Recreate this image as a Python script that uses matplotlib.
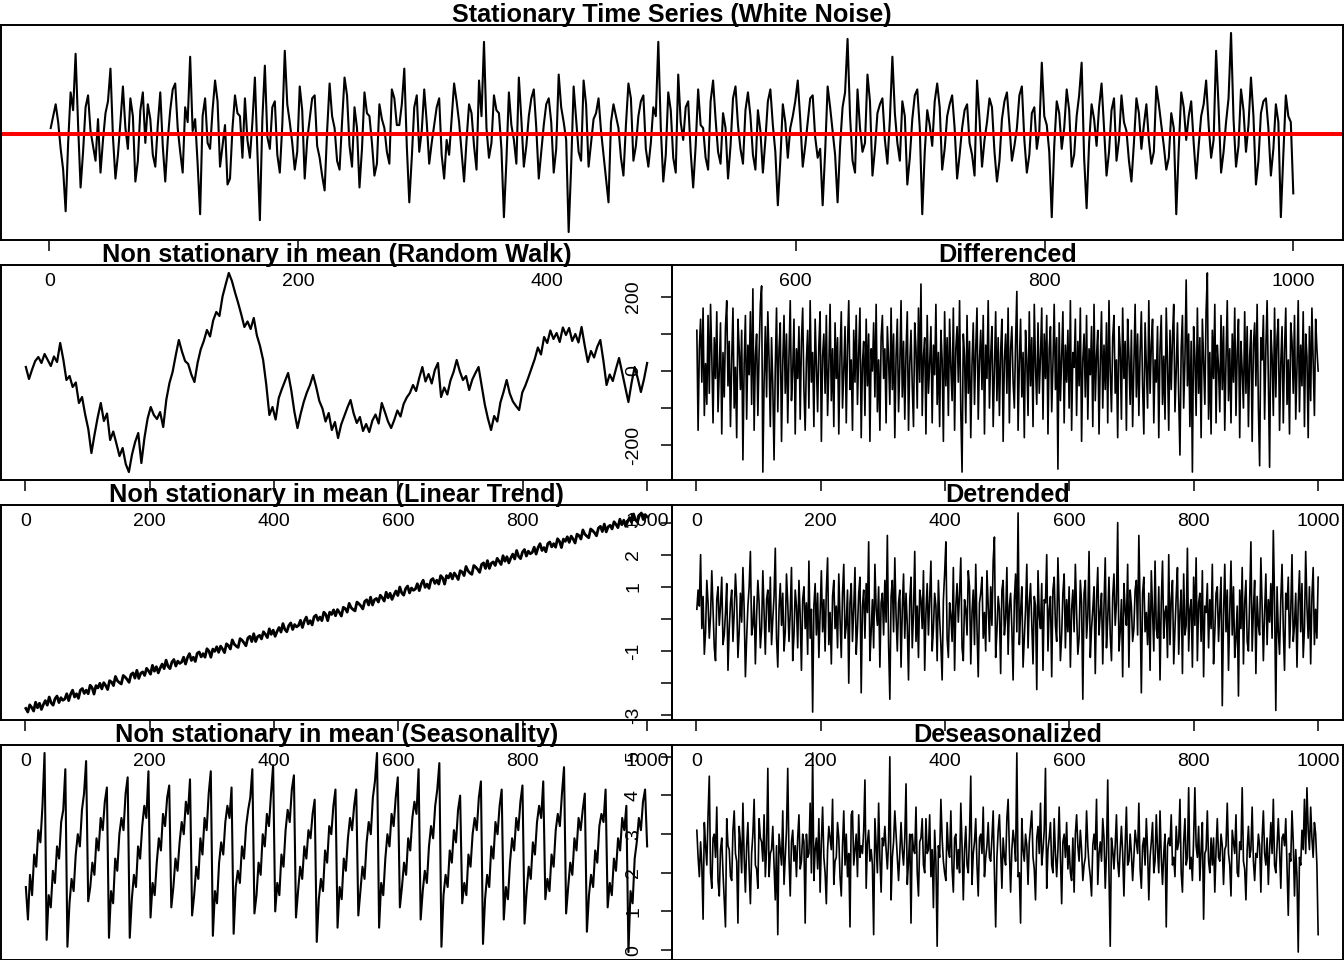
import numpy as np
import matplotlib.pyplot as plt

plt.rcParams['font.family'] = ['Liberation Sans', 'DejaVu Sans']
plt.rcParams['axes.unicode_minus'] = False

# DATA (one sample every couple of time steps of 1..1000)
white_noise = [
    0.2, 0.6, 1.0, 0.4, -0.5, -1.2, -2.6, -0.3, 1.4, 0.8, 2.7, 0.3, -1.8, -0.6, 0.9, 1.3, 0.1, -0.4, -0.9, 0.5,
    -1.3, -0.2, 0.7, 1.1, 2.2, -0.1, -1.5, -0.7, 0.4, 1.6, 0.2, -0.5, 1.2, 0.6, -1.6, -0.9, 0.8, 1.4, -0.3, 1.0,
    0.5, -0.7, -1.1, 0.3, 1.4, -0.4, -1.6, -0.2, 0.8, 1.5, 1.7, 0.2, -0.6, -1.3, 0.9, 0.4, 2.6, 0.1, 0.5, -1.0,
    -2.7, 0.6, 1.2, -0.3, -0.5, 0.8, 1.8, 1.1, -1.1, -0.4, 0.3, -1.7, -1.5, 0.2, 1.3, 0.7, 0.6, -0.8, 1.2, -0.2,
    -0.8, 0.4, 1.9, -0.6, -2.9, 0.5, 2.3, -0.1, -0.5, 0.9, 1.1, -0.7, -1.3, 0.3, 2.8, 1.0, 0.4, -0.3, -1.2, -0.6,
    1.6, 0.8, -1.5, -0.2, 0.5, 1.2, 1.3, -0.4, -0.8, -1.4, -1.9, 0.1, 1.7, 0.6, 0.2, -0.9, -1.2, 0.4, 1.9, 1.3,
    -0.4, -1.1, 0.9, 0.2, -1.8, -0.5, 1.4, 0.7, 0.6, -0.3, -1.4, -1.0, 1.0, 0.5, 0.2, -0.6, -1.0, 1.5, 1.2, 0.3,
    0.3, 1.0, 2.2, -0.4, -2.3, -0.8, 0.9, 1.3, -0.6, 0.1, 1.5, 0.4, -1.0, -0.3, 0.3, 0.9, 1.2, -0.7, -1.5, -0.2,
    -0.7, 0.5, 1.7, 1.1, 0.4, -0.6, -1.6, -0.2, 1.0, 0.7, -0.4, -1.2, 1.8, 0.6, 3.1, 0.2, -0.8, -0.3, 1.3, 0.8,
    0.7, -0.5, -2.8, -0.9, 1.4, 0.3, -0.2, -1.0, 1.9, 0.5, -1.1, -0.4, 0.6, 1.2, 1.5, 0.2, -1.5, -0.6, 0.3, 1.0,
    1.2, 0.4, -1.3, -0.5, 2.0, 0.9, 0.4, -0.2, -3.3, -1.1, 1.6, 0.5, -0.6, -0.9, 1.8, 1.0, -1.1, -0.3, 0.5, 0.7,
    1.2, 0.1, -0.7, -1.5, -2.3, 0.4, 1.0, 0.6, 0.2, -0.8, -1.4, 0.3, 1.7, 1.2, -0.9, -0.4, 0.6, 1.1, 1.3, -0.5,
    -1.1, -0.3, 0.9, 0.6, 3.1, 0.2, -1.6, -0.7, 1.4, 0.8, -0.8, -1.3, 2.0, 0.4, -0.2, 0.9, 1.1, -0.6, -1.8, -0.4,
    1.5, 0.3, 0.2, -0.8, -1.2, 1.1, 1.8, 0.5, -0.6, -1.0, 0.7, 0.2, -1.5, -0.4, 1.2, 1.6, 0.3, -0.5, -1.0, 0.8,
    1.4, 0.6, -0.7, -1.2, 0.8, 0.1, -1.3, -0.2, 1.1, 1.5, 0.3, -0.6, -2.4, -0.9, 1.0, 0.4, -0.8, 0.2, 0.6, 1.1,
    1.8, 0.5, -1.1, -0.4, 0.4, 1.2, 1.3, -0.1, -0.8, -0.5, -2.4, -0.6, 1.6, 0.9, 0.1, -0.7, -2.3, -0.4, 0.9, 1.4,
    3.2, 0.6, -0.9, -1.3, 1.5, 0.2, -0.6, -0.3, 2.0, 1.1, -1.4, -0.5, 0.7, 1.0, 1.2, -0.2, -1.0, 0.5, 2.6, 0.7,
    -0.3, -0.9, 1.1, 0.6, -1.7, -0.8, 0.5, 1.3, 1.5, 0.2, -2.7, -0.6, 0.8, 0.3, -0.4, 1.1, 1.7, 0.9, -1.2, -0.5,
    0.6, 1.0, 1.3, 0.2, -1.5, -0.7, 0.2, 0.8, 1.0, -0.3, -0.7, -1.4, 1.8, 0.5, -1.1, -0.2, 0.4, 1.2, 0.9, -0.6,
    -1.6, -0.9, 0.5, 1.1, 1.4, 0.3, -0.9, -0.4, 0.2, 1.3, 1.6, -0.2, -1.3, -0.7, 0.7, 0.9, -0.5, 0.1, 2.4, 0.6,
    0.3, -0.6, -2.8, -0.4, 1.1, 0.7, -0.5, 0.2, 1.5, 0.8, -1.1, -0.7, 0.6, 1.3, 2.4, -0.8, -2.5, -0.3, 1.0, 0.5,
    -0.4, 0.9, 1.7, 0.2, -1.4, -0.6, 0.8, 1.2, -0.9, -0.2, 1.3, 0.4, 0.1, -0.9, -1.6, -0.3, 1.2, 0.7, -0.5, 0.3,
    1.0, -0.2, -1.0, -0.6, 1.6, 1.0, 0.3, -0.4, -1.2, -0.8, 0.7, 0.2, -2.7, -0.5, 1.4, 0.9, -0.2, 0.6, 1.1, -0.3,
    -1.5, -0.4, 0.6, 1.0, 1.8, 0.3, -0.8, -0.2, 2.8, 0.9, -1.3, -0.6, 0.4, 1.2, 3.4, 0.5, -1.1, -0.4, 1.5, 0.8,
    -0.6, 0.3, 1.9, 0.6, -1.7, -0.9, 0.7, 1.1, 1.2, 0.2, -1.4, -0.5, 1.0, 0.4, -2.8, -0.7, 1.3, 0.6, 0.4, -2.0,
]

random_walk = [
    0.0, -2.4, -0.5, 1.2, 2.0, 0.8, 2.6, 1.4, 0.2, 2.1,
    1.0, 4.8, 1.5, -2.6, -1.8, -4.0, -3.1, -7.2, -6.0, -9.5,
    -12.4, -17.2, -13.5, -10.1, -7.2, -10.8, -9.3, -14.6, -12.9, -15.3,
    -17.8, -16.2, -19.4, -21.0, -17.5, -15.0, -13.2, -19.2, -14.1, -10.3,
    -8.0, -9.6, -10.4, -9.0, -12.0, -6.5, -3.2, -1.0, 2.3, 5.4,
    3.1, 1.2, 0.6, -1.5, -3.0, 0.8, 3.5, 5.2, 7.4, 6.1,
    9.3, 11.0, 10.2, 14.1, 16.5, 18.8, 17.2, 14.9, 12.8, 10.5,
    8.0, 9.1, 7.6, 9.8, 6.3, 4.2, 1.4, -3.5, -9.6, -8.0,
    -10.5, -6.2, -4.4, -2.8, -1.2, -4.6, -8.9, -12.2, -9.4, -7.0,
    -5.1, -3.6, -1.6, -4.0, -6.8, -8.3, -10.9, -9.2, -12.6, -11.0,
    -14.2, -11.5, -9.8, -8.1, -6.6, -9.3, -11.2, -10.0, -12.8, -11.4,
    -13.0, -10.7, -9.5, -11.3, -7.2, -9.0, -10.9, -12.2, -10.6, -8.7,
    -9.9, -7.4, -6.1, -5.2, -3.6, -4.8, -2.2, 0.0, -2.9, -1.4,
    -3.3, -0.6, 0.8, -6.0, -4.1, -5.5, -2.7, -1.0, 1.4, -0.9,
    -2.6, -1.8, -4.6, -2.5, -1.2, 0.0, -3.8, -7.5, -10.3, -12.6,
    -9.8, -10.9, -7.1, -5.0, -2.6, -5.3, -6.9, -7.8, -8.6, -5.1,
    -3.7, -2.0, -0.2, 1.6, 3.9, 2.5, 6.0, 4.8, 7.3, 5.6,
    6.8, 5.0, 7.9, 6.4, 7.8, 5.2, 6.6, 4.9, 8.0, 4.3,
    1.0, 3.2, 1.9, 4.0, 5.4, 1.2, -3.6, -1.5, -2.8, -0.4,
    1.8, -1.1, -3.9, -7.0, -3.2, 0.0, -2.3, -5.0, -2.4, 0.8,
]

differenced = [
    110, -160, 60, 140, -30, 170, -120, 20, -90, 150, -60, 180, 40, -140, 90, -20, 160, -110, 0, 130, -170, 50, -70, 120, 190,
    -40, 80, -150, 30, 170, -100, 10, -180, 140, 60, -50, 110, -240, 20, 150, -130, 70, -10, 160, -90, 222, -160, 40, 100, -120,
    50, 180, 230, -273, -30, 120, -70, 160, 30, -150, 90, -40, -240, 10, 170, -110, 60, 130, -190, 20, 150, -60, 100, -140, 40,
    190, -80, 0, 140, -170, 60, -20, 120, -130, 80, 170, -50, -160, 30, 110, -100, 190, -30, 50, -150, 140, 20, -110, 70, 160,
    -190, 40, 100, -60, 150, -120, 10, 180, -80, 60, -150, 130, -20, 90, -170, 40, 160, -100, 0, 120, -140, 70, 190, -50, 30,
    -160, 110, -30, 150, -90, 50, 170, -180, 20, 80, -120, 140, -40, 100, -190, 60, 0, 130, -70, 180, -110, 30, -160, 90, 150,
    -20, 60, -140, 120, 30, -90, 170, -50, 100, -180, 40, 140, -110, 10, 190, -70, 80, -130, 50, 160, -160, 20, 110, -40, -150,
    130, 60, -100, 170, -30, 235, -120, 40, 90, -170, 150, -60, 20, 120, -140, 70, -10, 180, -90, 50, -150, 110, 30, -190, 160,
    -40, 90, -120, 140, 10, -80, 170, -160, 60, 120, -30, 190, -110, -273, 100, 40, -140, 150, -60, 80, -180, 20, 130, -90, 60,
    170, -130, 30, 110, -50, 150, -170, 70, -20, 190, -100, 40, 120, -150, 0, 160, -80, 90, -120, 50, 140, -190, 30, 100, -60,
    170, -140, 60, 120, -30, -100, 80, 215, -160, 20, 140, -70, 50, -180, 110, 30, -120, 160, -40, 90, -150, 180, 10, -90, 130,
    -60, 40, 170, -130, 100, -20, 150, -170, 60, 120, -110, 20, 180, -50, 90, -265, 130, -80, 40, 160, -140, 70, -30, 110, -100,
    190, -160, 50, 10, 140, -120, 80, -40, 170, -190, 30, 100, -70, 150, -130, 60, -10, 120, -150, 180, -80, 40, 110, -170, 20,
    160, -100, 70, -50, 130, -140, 190, 0, -110, 90, 150, -60, 30, -180, 120, 60, -130, 170, -20, 80, -160, 140, 40, -90, 110,
    -150, 20, 180, -70, 100, -120, 50, 160, -40, -170, 130, 10, -100, 190, -60, 70, 140, -140, 30, -30, 120, -180, 60, 150, -90,
    40, -130, 170, 20, -160, 110, -50, 90, 180, -110, 0, 130, -70, -227, 60, 150, -100, 30, 246, -40, 100, -150, 80, -273, 120,
    40, -120, 170, -60, 90, -180, 140, 20, -90, 160, 265, -130, 50, -170, 110, -20, 180, -140, 70, 10, -110, 150, -50, 120, -160,
    30, 190, -80, 60, -140, 100, -30, 170, -120, 50, 140, -180, 80, 0, -100, 160, -60, 120, -150, 40, 110, -190, 70, 130, -40,
    180, -100, -256, 90, 30, 150, -130, 60, 190, -20, -260, 110, 40, -120, 170, -70, 90, 140, -160, 20, 120, -140, 60, 170, -90,
    30, -170, 130, 80, -60, 150, -130, 10, 190, -110, 70, -40, 160, -150, 100, 40, -180, 120, -80, 170, 20, -120, 140, 60, 0,
]

linear_trend = [
    -2.80, -2.91, -2.69, -2.77, -2.88, -2.61, -2.78, -2.64, -2.83, -2.68, -2.56, -2.70, -2.45, -2.63, -2.70, -2.50, -2.42, -2.62, -2.47, -2.55,
    -2.51, -2.35, -2.56, -2.36, -2.24, -2.45, -2.35, -2.49, -2.24, -2.19, -2.34, -2.24, -2.35, -2.09, -2.16, -2.36, -2.10, -2.17, -2.03, -2.20,
    -2.01, -2.10, -2.22, -1.95, -1.99, -2.10, -1.82, -1.95, -2.01, -2.05, -1.79, -1.84, -1.91, -2.00, -1.76, -1.71, -1.87, -1.63, -1.88, -1.72,
    -1.68, -1.79, -1.57, -1.65, -1.75, -1.48, -1.66, -1.52, -1.71, -1.56, -1.44, -1.58, -1.32, -1.51, -1.58, -1.38, -1.30, -1.50, -1.35, -1.42,
    -1.38, -1.23, -1.44, -1.24, -1.12, -1.33, -1.23, -1.36, -1.11, -1.07, -1.22, -1.12, -1.23, -0.97, -1.04, -1.23, -0.98, -1.05, -0.91, -1.08,
    -0.89, -0.98, -1.09, -0.82, -0.87, -0.98, -0.70, -0.83, -0.89, -0.93, -0.66, -0.71, -0.79, -0.88, -0.64, -0.59, -0.75, -0.51, -0.75, -0.60,
    -0.56, -0.67, -0.45, -0.53, -0.63, -0.36, -0.53, -0.40, -0.59, -0.44, -0.32, -0.46, -0.20, -0.38, -0.45, -0.26, -0.18, -0.38, -0.23, -0.30,
    -0.26, -0.10, -0.32, -0.12, 0.00, -0.21, -0.11, -0.24, 0.01, 0.06, -0.10, 0.00, -0.11, 0.15, 0.08, -0.11, 0.15, 0.08, 0.22, 0.04,
    0.23, 0.14, 0.03, 0.30, 0.26, 0.15, 0.42, 0.29, 0.23, 0.19, 0.46, 0.41, 0.34, 0.25, 0.48, 0.53, 0.37, 0.61, 0.37, 0.53,
    0.57, 0.46, 0.67, 0.59, 0.49, 0.76, 0.59, 0.73, 0.54, 0.68, 0.80, 0.66, 0.92, 0.74, 0.67, 0.87, 0.95, 0.74, 0.89, 0.82,
    0.86, 1.02, 0.81, 1.01, 1.13, 0.91, 1.01, 0.88, 1.13, 1.18, 1.03, 1.13, 1.01, 1.27, 1.20, 1.01, 1.27, 1.20, 1.34, 1.17,
    1.35, 1.26, 1.15, 1.42, 1.38, 1.27, 1.55, 1.42, 1.35, 1.31, 1.58, 1.53, 1.46, 1.37, 1.61, 1.66, 1.49, 1.73, 1.49, 1.65,
    1.69, 1.58, 1.80, 1.71, 1.61, 1.88, 1.71, 1.85, 1.66, 1.81, 1.93, 1.78, 2.04, 1.86, 1.79, 1.99, 2.07, 1.87, 2.02, 1.94,
    1.98, 2.14, 1.93, 2.13, 2.25, 2.04, 2.13, 2.00, 2.25, 2.30, 2.15, 2.25, 2.14, 2.40, 2.32, 2.13, 2.39, 2.32, 2.46, 2.29,
    2.48, 2.39, 2.27, 2.54, 2.50, 2.39, 2.67, 2.54, 2.48, 2.43, 2.70, 2.65, 2.58, 2.49, 2.73, 2.78, 2.62, 2.85, 2.61, 2.77,
    2.81, 2.70, 2.92, 2.84, 2.74, 3.00, 2.83, 2.97, 2.78, 2.93, 3.05, 2.91, 3.16, 2.98, 2.91, 3.11, 3.19, 2.99, 3.14, 3.07,
]

detrended = [
    0.3, 0.9, 0.4, 2.0, -0.3, 0.7, -1.1, -0.4, 1.2, 0.5, -0.6, 0.1, 1.5, 0.3, -0.9, -1.3, 0.6, 1.0, -0.2, 0.4, 1.3, -0.8, -0.5, 0.2, 1.1,
    -1.6, -0.3, 0.5, 0.9, -0.7, 0.2, 1.4, 0.6, -1.2, -0.4, 0.8, -0.1, 1.6, 0.3, -1.8, -0.6, 0.4, 1.0, 2.1, -0.5, -0.2, 0.7, -1.4, 0.1, 1.2,
    0.5, -0.9, -0.3, 1.5, 0.2, -1.1, 0.6, 0.9, -0.4, 1.3, -0.8, 0.0, 0.7, 2.2, -0.6, -1.5, 0.3, 1.1, -0.2, 0.8, -1.0, -0.4, 1.4, 0.5, -0.7,
    0.2, 1.6, -1.3, -0.5, 0.9, 0.4, -0.9, 1.2, 0.1, -1.6, 0.6, 1.0, -0.3, 0.5, -1.1, 1.8, -0.6, 0.3, -2.9, 0.4, 1.1, -0.5, 0.8, -1.2, 0.2,
    1.5, -0.4, 0.6, -1.0, 0.9, 1.9, -0.8, 0.2, -1.4, 0.7, 1.2, -0.3, 0.4, -0.9, 1.4, 0.0, -1.2, 0.8, 1.7, -0.6, -0.2, 0.9, -2.0, 0.5, 1.1,
    -0.7, 0.3, 1.6, -1.1, -0.3, 0.8, 1.3, -2.3, 0.4, 0.9, -0.6, 1.1, 0.2, 2.4, -1.3, -0.4, 0.6, -0.9, 1.7, 0.3, -0.2, 1.0, -1.5, 0.5, 0.8,
    -0.5, 1.2, -0.1, 2.6, -0.8, -2.5, 0.7, 1.2, -0.4, 1.9, 0.1, -1.0, 0.5, 0.9, -1.5, 0.3, 1.4, -0.6, 0.8, -0.2, -1.9, 0.6, 1.3, -0.9, 0.2,
    2.1, -0.7, 0.4, -1.2, 0.9, 0.6, -0.3, 1.5, -1.6, 0.2, 1.1, -0.5, 0.7, 1.8, -1.0, -0.3, 0.8, 0.4, -1.3, 1.2, 0.0, -0.8, -1.9, 0.6, 1.4,
    2.4, -0.6, -1.2, 0.5, 0.1, -0.7, 1.6, -1.6, 0.4, 1.1, -0.1, 0.8, 1.9, -0.9, -1.3, 0.6, 0.3, -0.5, 1.5, 1.0, -1.4, 0.2, 0.9, -0.8, 1.7,
    -0.3, -1.8, 0.5, 0.8, 1.3, -0.6, 0.2, -1.0, 1.5, 0.4, -0.7, 1.0, -0.2, 1.8, 2.55, -1.2, -0.4, 0.7, 0.3, -1.7, 0.9, 1.2, -0.5, 0.0, 1.6,
    -1.1, 0.4, 0.8, -0.3, -1.9, 0.6, 1.4, -0.4, 3.3, -0.8, 0.2, 1.0, -1.5, -0.6, 0.3, 1.7, -0.9, 0.5, 1.1, -0.2, -1.4, 0.7, 0.4, -2.2, 1.5,
    0.1, -0.3, 1.1, -1.6, 0.6, 0.5, 2.0, -1.0, 0.3, 0.7, -1.8, 0.9, 1.3, -0.2, -0.7, 1.9, 0.4, -1.3, -0.5, 0.8, 1.4, -0.9, 0.6, -0.4, 1.0,
    -1.5, 0.3, 0.9, -0.4, 1.7, 0.2, -1.1, -0.6, 1.2, 0.5, -2.5, 0.8, 1.2, -0.6, 0.1, 2.1, -1.2, -0.3, 0.3, 1.0, -1.7, 0.6, 1.6, -0.5, 0.2,
    0.8, -1.4, 0.4, 1.9, -0.9, 0.0, 1.3, -0.5, -1.3, 0.7, 1.4, -0.2, 0.5, 3.0, -1.0, -0.4, 0.6, -1.8, 1.1, 0.3, -0.2, 1.7, -1.5, 0.9, 0.4,
    -0.7, -0.3, 0.9, 1.2, -0.5, 2.6, 0.4, -2.3, 0.8, 1.3, -0.4, 0.2, -0.8, 0.8, -1.6, 1.5, 0.3, -1.0, 1.8, -0.3, -0.6, 1.0, -1.9, 0.5, 1.8,
    -0.6, 0.2, 0.4, -1.2, 2.0, -0.8, 0.6, 1.2, -1.4, -0.3, 0.7, 1.6, -1.1, 0.2, 0.9, -1.7, 1.4, -0.5, -0.2, 2.2, -1.0, 0.3, 0.6, -1.5, 1.3,
    -0.2, 1.9, -1.3, 0.5, 0.8, -0.7, 1.5, -1.8, 0.4, 0.2, 1.1, -0.9, 0.6, -0.3, 1.7, -1.4, -0.4, 0.8, 1.0, -0.7, 0.3, 1.3, -2.7, 0.1, 1.7,
    -0.4, 0.9, -1.6, 0.2, 1.8, -0.5, 1.0, -1.2, -0.6, 0.4, -2.4, 0.9, -0.3, 1.6, -1.4, 0.5, 1.2, -0.7, -1.0, 0.6, 2.4, -1.0, 0.3, 1.2, -1.7,
    0.7, -0.2, -0.5, 1.9, 0.4, -1.3, 0.2, 1.4, -0.8, 0.6, -0.1, 1.1, -0.6, 2.75, 0.5, -2.85, 1.0, -0.4, -1.1, 0.6, 1.7, -0.3, -1.6, 0.8, 0.3,
    1.3, -0.9, 0.2, 2.0, -0.7, -0.2, 0.8, -1.5, 0.5, 1.5, -0.4, 1.1, -1.2, -0.3, 2.1, 0.4, -0.6, 1.0, -1.4, 0.7, 1.6, -0.8, 0.3, -0.6, 1.3,
]

seasonality = [
    1.6, 0.8, 1.9, 1.4, 2.4, 2.1, 3.0, 2.7, 3.6, 4.9,
    0.3, 1.4, 1.1, 2.0, 1.7, 2.6, 2.3, 3.2, 3.5, 4.5,
    0.13, 1.2, 1.8, 1.5, 2.4, 2.9, 2.6, 3.5, 3.9, 4.7,
    1.25, 1.6, 2.2, 1.9, 2.8, 2.5, 3.3, 3.0, 3.7, 4.05,
    0.35, 1.5, 1.2, 2.3, 2.0, 2.9, 3.3, 3.0, 3.9, 4.3,
    0.35, 1.3, 1.9, 1.6, 2.6, 2.3, 3.1, 3.6, 3.3, 4.45,
    0.85, 1.7, 1.4, 2.2, 2.8, 2.5, 3.4, 3.1, 3.8, 4.1,
    1.1, 1.6, 2.3, 2.0, 2.7, 3.2, 2.9, 3.7, 3.4, 4.25,
    0.9, 1.4, 2.1, 1.8, 2.8, 2.4, 3.3, 3.0, 3.9, 4.45,
    0.4, 1.5, 1.2, 2.2, 2.7, 2.4, 3.2, 3.6, 3.3, 4.05,
    0.45, 1.6, 2.0, 1.7, 2.6, 2.3, 3.1, 3.5, 3.8, 4.5,
    0.95, 1.4, 2.2, 1.9, 2.9, 2.6, 3.4, 3.1, 3.9, 4.6,
    1.0, 1.7, 1.4, 2.4, 2.1, 3.0, 3.5, 3.2, 4.0, 4.35,
    0.85, 1.5, 2.1, 1.8, 2.6, 2.3, 3.0, 2.8, 3.4, 3.75,
    0.25, 1.3, 1.8, 1.5, 2.5, 2.2, 3.1, 2.9, 3.6, 4.0,
    0.6, 1.6, 1.3, 2.3, 2.0, 2.8, 3.3, 3.0, 3.6, 4.0,
    0.9, 1.5, 2.1, 1.8, 2.7, 3.2, 2.9, 3.8, 4.2, 4.9,
    0.6, 1.7, 1.4, 2.3, 2.9, 2.6, 3.4, 3.1, 3.8, 4.3,
    1.1, 1.6, 2.2, 1.9, 2.8, 2.5, 3.3, 3.7, 3.4, 4.5,
    0.8, 1.5, 2.0, 1.7, 2.6, 3.1, 2.8, 3.6, 4.0, 4.65,
    0.13, 1.4, 1.9, 1.6, 2.5, 2.2, 3.0, 2.7, 3.5, 3.85,
    1.2, 1.7, 1.4, 2.4, 2.1, 2.9, 3.3, 3.0, 3.8, 4.2,
    0.2, 1.3, 1.9, 1.6, 2.6, 2.3, 3.2, 2.9, 3.6, 4.0,
    0.8, 1.6, 1.3, 2.2, 2.8, 2.5, 3.3, 3.0, 3.7, 4.1,
    0.7, 1.5, 2.1, 1.8, 2.7, 2.4, 3.2, 3.6, 3.3, 4.2,
    1.3, 1.8, 1.5, 2.4, 2.1, 3.0, 3.4, 3.1, 3.9, 4.55,
    0.95, 1.6, 2.2, 1.9, 2.8, 2.5, 3.3, 3.0, 3.5, 3.9,
    0.5, 1.4, 1.9, 1.6, 2.5, 2.2, 3.1, 3.4, 3.2, 4.0,
    1.1, 1.7, 1.4, 2.3, 2.0, 2.8, 2.5, 3.3, 3.0, 3.6,
    0.0, 1.5, 1.2, 2.3, 2.7, 3.3, 3.0, 3.7, 4.0, 2.6,
]

deseasonalized = [
    3.1, 2.4, 1.9, 2.8, 2.2, 0.8, 3.3, 2.7, 2.2, 3.5, 4.5, 2.0, 1.6, 2.9, 3.0, 2.4, 3.7, 1.8, 1.4, 2.6, 2.9, 2.0, 1.3, 0.6, 3.4,
    2.7, 2.6, 1.9, 1.8, 3.1, 3.6, 2.5, 2.3, 0.7, 3.2, 2.8, 2.0, 3.8, 2.4, 1.5, 2.7, 3.3, 2.1, 1.2, 2.5, 3.0, 3.9, 2.2, 2.1, 1.6,
    3.4, 2.9, 2.8, 2.3, 3.5, 1.9, 2.6, 4.7, 1.9, 2.5, 2.6, 3.2, 2.2, 1.3, 2.7, 0.4, 3.0, 2.6, 2.2, 3.6, 1.7, 2.4, 3.1, 4.7, 2.4,
    1.4, 2.8, 3.1, 2.3, 2.7, 1.9, 2.9, 3.5, 2.1, 2.3, 3.0, 2.8, 0.7, 3.0, 2.4, 2.5, 3.8, 2.0, 5.1, 1.8, 2.6, 2.9, 2.1, 3.4, 1.5,
    2.8, 3.7, 2.4, 2.0, 1.2, 2.6, 3.2, 2.9, 2.6, 3.9, 1.7, 2.3, 2.4, 3.3, 2.9, 1.9, 1.4, 2.7, 3.6, 2.2, 3.0, 1.9, 2.5, 0.6, 3.5,
    3.6, 2.2, 2.6, 3.0, 1.9, 3.5, 2.4, 2.7, 2.5, 3.1, 4.4, 1.6, 2.8, 3.1, 2.3, 2.6, 2.2, 0.4, 3.4, 2.7, 2.0, 3.8, 2.4, 1.5, 2.9,
    2.7, 3.2, 2.6, 2.1, 2.8, 5.0, 1.3, 2.4, 2.8, 3.6, 3.0, 2.4, 1.8, 2.5, 3.3, 2.6, 2.2, 2.9, 4.3, 1.7, 2.3, 3.0, 0.7, 3.0, 2.6,
    2.5, 3.7, 2.0, 1.4, 2.8, 2.9, 3.4, 2.2, 2.0, 3.4, 2.5, 2.6, 3.5, 1.9, 2.6, 1.1, 3.1, 2.3, 0.1, 2.7, 2.4, 3.9, 2.9, 2.3, 2.0,
    1.8, 3.3, 2.6, 2.4, 3.6, 2.1, 1.5, 2.9, 3.0, 2.1, 2.6, 2.0, 3.8, 2.7, 1.3, 2.6, 3.2, 2.2, 2.0, 3.0, 4.5, 1.7, 2.5, 2.8, 3.4,
    2.2, 1.4, 2.9, 3.0, 2.5, 3.7, 1.9, 2.4, 2.7, 3.3, 2.4, 2.3, 2.9, 3.6, 2.0, 0.6, 2.4, 3.1, 3.5, 2.6, 1.6, 2.9, 2.4, 2.2, 3.4,
    3.9, 2.6, 1.5, 2.6, 3.1, 2.8, 2.3, 5.1, 1.9, 2.0, 0.7, 3.4, 2.6, 2.3, 3.0, 2.7, 1.7, 2.8, 3.2, 3.6, 2.4, 2.1, 1.3, 2.9, 3.2,
    2.5, 3.8, 2.2, 2.6, 3.1, 4.7, 1.6, 2.6, 2.9, 3.3, 2.2, 2.0, 3.4, 2.5, 1.9, 2.6, 3.7, 2.4, 1.2, 2.8, 3.0, 2.4, 3.3, 2.1, 2.7,
    2.0, 1.8, 2.9, 1.5, 3.0, 3.5, 2.7, 2.3, 3.1, 2.6, 1.8, 2.2, 2.4, 3.6, 2.7, 2.2, 1.9, 1.4, 2.7, 3.0, 2.6, 3.9, 1.7, 2.5, 2.8,
    2.3, 3.4, 2.9, 1.6, 2.5, 4.4, 2.0, 0.1, 2.9, 2.6, 2.1, 2.7, 3.5, 2.3, 1.9, 2.6, 3.2, 2.5, 1.4, 2.7, 3.7, 2.2, 2.3, 3.0, 2.5,
    1.8, 2.4, 3.1, 2.8, 2.5, 3.8, 2.1, 1.6, 2.7, 2.9, 2.2, 3.4, 2.6, 1.3, 2.4, 2.8, 3.3, 2.0, 2.3, 3.5, 2.6, 2.0, 3.6, 2.4, 1.7,
    2.5, 3.0, 0.6, 2.7, 2.9, 2.7, 3.5, 2.2, 2.4, 1.9, 3.2, 2.6, 2.8, 3.9, 2.0, 1.5, 2.8, 3.4, 2.2, 2.4, 4.2, 2.1, 2.4, 1.8, 2.9,
    4.2, 2.7, 2.4, 3.2, 1.8, 2.6, 3.3, 0.8, 2.5, 2.6, 3.6, 2.3, 2.0, 2.9, 2.2, 2.9, 1.5, 2.6, 3.4, 2.4, 2.3, 3.0, 2.7, 1.7, 2.6,
    2.7, 3.8, 2.5, 2.2, 1.4, 3.1, 2.8, 2.5, 3.5, 2.0, 1.9, 2.8, 2.6, 4.2, 2.3, 2.1, 1.3, 2.6, 3.2, 2.4, 2.6, 3.7, 2.3, 1.8, 2.5,
    2.4, 3.0, 2.7, 1.5, 2.9, 3.6, 2.5, 2.2, 2.9, 1.7, 2.6, 3.3, 2.5, 3.9, 2.2, 2.0, 2.7, 3.4, 2.6, 1.6, 2.9, 3.0, 2.7, 3.4, 2.2,
    0.9, 2.5, 2.3, 3.6, 2.8, 1.4, 2.6, 1.9, -0.05, 2.4, 2.2, 3.1, 2.6, 3.9, 2.5, 4.2, 3.1, 2.6, 3.7, 2.9, 2.4, 3.3, 3.0, 2.2, 0.4,
]

x_ticks = [0, 200, 400, 600, 800, 1000]
diff_ticks = [-200, -100, 0, 100, 200]
diff_labels = ['-200', '', '0', '', '200']
detr_ticks = [-3, -2, -1, 0, 1, 2, 3]
detr_labels = ['-3', '', '-1', '', '1', '2', '3']
deseas_ticks = [0, 1, 2, 3, 4, 5]
deseas_labels = ['0', '1', '2', '3', '4', '5']

#FIGURE, 1344x960 PIXELS
W, H = 1344, 960
fig = plt.figure(figsize=(W / 100, H / 100), dpi=100)
fig.patch.set_facecolor('white')


def panel(left, top, width, height, series, title, yticks=None, ylabels=None, lw=1.3):
    ax = fig.add_axes([left / W, 1 - (top + height) / H, width / W, height / H])
    ax.set_facecolor('none')
    t = np.linspace(1, 1000, len(series))
    ax.plot(t, series, color='black', lw=lw)
    ax.margins(x=0.04, y=0.04)
    ax.set_xticks(x_ticks, [str(v) for v in x_ticks])
    if yticks is not None:
        ax.set_yticks(yticks, ylabels, rotation=90, va='center')
    ax.tick_params(direction='out', length=7.9, width=1.1, labelsize=14, colors='black')
    ax.tick_params(axis='x', pad=15.8)
    ax.tick_params(axis='y', pad=13.7)
    for sp in ax.spines.values():
        sp.set_linewidth(1.4)
    ax.set_title(title, fontsize=18.2, fontweight='bold', y=1.0, pad=2.2)
    return ax


#TOP ROW: WHITE NOISE WITH ITS MEAN
ax1 = panel(1, 25, 1342, 215, white_noise, 'Stationary Time Series (White Noise)', lw=1.5)
ax1.axhline(0, color='red', lw=2.9)

#ROW 2: RANDOM WALK AND ITS DIFFERENCE
panel(1, 265, 671, 215, random_walk, 'Non stationary in mean (Random Walk)', lw=1.6)
panel(672, 265, 671, 215, differenced, 'Differenced', diff_ticks, diff_labels, lw=1.2)

#ROW 3: LINEAR TREND AND DETRENDED
panel(1, 505, 671, 215, linear_trend, 'Non stationary in mean (Linear Trend)', lw=2.0)
panel(672, 505, 671, 215, detrended, 'Detrended', detr_ticks, detr_labels, lw=1.2)

#ROW 4: SEASONALITY AND DESEASONALIZED
panel(1, 745, 671, 215, seasonality, 'Non stationary in mean (Seasonality)', lw=1.5)
panel(672, 745, 671, 215, deseasonalized, 'Deseasonalized', deseas_ticks, deseas_labels, lw=1.2)

plt.savefig('out.png', dpi=100)
